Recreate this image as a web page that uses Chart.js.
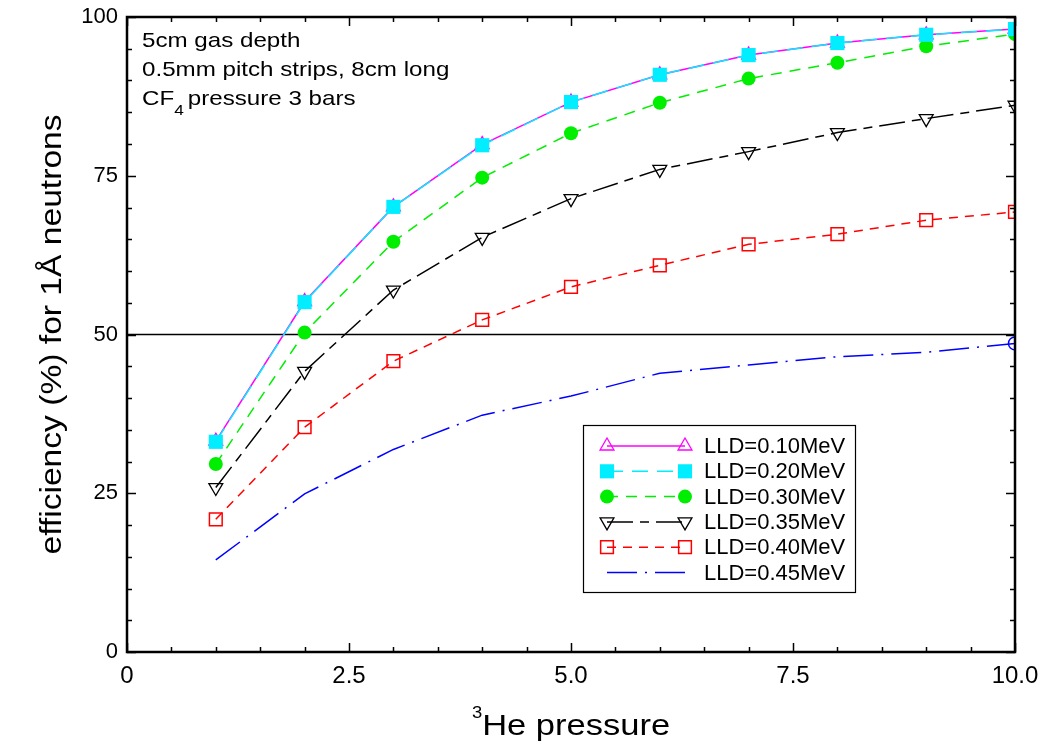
<!DOCTYPE html>
<html><head><meta charset="utf-8">
<script src="https://cdn.jsdelivr.net/npm/chart.js@4.4.1/dist/chart.umd.min.js"></script>
<style>html,body{margin:0;padding:0;background:#fff;}#wrap{width:1041px;height:756px;}</style>
</head><body><div id="wrap"><canvas id="c" width="1041" height="756"></canvas></div>
<script>
// ---- data ----
const pressure = [1, 2, 3, 4, 5, 6, 7, 8, 9, 10];
const lld010 = [33.2, 55.2, 70.1, 79.9, 86.6, 90.9, 94.0, 95.9, 97.2, 98.1];
const lld020 = [33.1, 55.1, 70.1, 79.8, 86.6, 90.9, 94.0, 95.9, 97.2, 98.1];
const lld030 = [29.6, 50.3, 64.6, 74.7, 81.7, 86.5, 90.3, 92.8, 95.4, 97.3];
const lld035 = [25.9, 44.2, 57.0, 65.3, 71.4, 76.0, 78.8, 81.8, 84.0, 86.1];
const lld040 = [20.9, 35.4, 45.8, 52.3, 57.5, 60.9, 64.2, 65.8, 68.0, 69.3];
const lld045 = [14.5, 24.9, 31.9, 37.3, 40.3, 43.9, 45.2, 46.5, 47.2, 48.6];
const seriesNames = ['LLD=0.10MeV', 'LLD=0.20MeV', 'LLD=0.30MeV', 'LLD=0.35MeV', 'LLD=0.40MeV', 'LLD=0.45MeV'];
const xTickValues = [0, 2.5, 5, 7.5, 10];
const xTickLabels = ['0', '2.5', '5.0', '7.5', '10.0'];
const yTickValues = [0, 25, 50, 75, 100];
const yTickLabels = ['0', '25', '50', '75', '100'];
const refLevel = 50;
const notes = ['5cm gas depth', '0.5mm pitch strips, 8cm long'];

const pts = arr => pressure.map((p, i) => ({x: p, y: arr[i]}));
const FONT = '"Liberation Sans", Arial, sans-serif';

const datasets = [
  {label: seriesNames[1], data: pts(lld020), borderColor: '#00eeff', backgroundColor: '#00eeff',
   borderDash: [16, 9], pointStyle: 'rect', pointRadius: 10, pointBorderWidth: 0, order: 0},
  {label: seriesNames[0], data: pts(lld010), borderColor: '#ff00ff', backgroundColor: 'rgba(0,0,0,0)',
   borderDash: [], pointStyle: 'triangle', pointRadius: 8, pointBorderWidth: 1.3, order: 1},
  {label: seriesNames[2], data: pts(lld030), borderColor: '#00ee00', backgroundColor: '#00ee00',
   borderDash: [11, 8], pointStyle: 'circle', pointRadius: 7, pointBorderWidth: 0, order: 2},
  {label: seriesNames[3], data: pts(lld035), borderColor: '#000000', backgroundColor: 'rgba(0,0,0,0)',
   borderDash: [26, 7, 9, 7], pointStyle: 'triangle', pointRotation: 180, pointRadius: 8, pointBorderWidth: 1.3, order: 3},
  {label: seriesNames[4], data: pts(lld040), borderColor: '#ff0000', backgroundColor: 'rgba(0,0,0,0)',
   borderDash: [9, 7], pointStyle: 'rect', pointRadius: 9, pointBorderWidth: 1.5, order: 4},
  {label: seriesNames[5], data: pts(lld045), borderColor: '#0000ff', backgroundColor: 'rgba(0,0,0,0)',
   borderDash: [30, 8, 2, 8], pointStyle: 'circle',
   pointRadius: pressure.map((p, i) => i === pressure.length - 1 ? 6.5 : 0), pointBorderWidth: 1.5, order: 5},
  {label: 'ref', data: [{x: 0, y: refLevel}, {x: 10, y: refLevel}], borderColor: '#000', borderWidth: 1.5,
   pointRadius: 0, order: 6}
];
datasets.forEach(d => { if (d.borderWidth === undefined) d.borderWidth = 1.5; d.fill = false; d.tension = 0; d.pointBorderColor = d.borderColor; d.pointBackgroundColor = d.backgroundColor; });

function stretchText(ctx, txt, x, y, sx) {
  ctx.save();
  ctx.translate(x, y);
  ctx.scale(sx, 1);
  ctx.fillText(txt, 0, 0);
  ctx.restore();
  return ctx.measureText(txt).width * sx;
}

const framePlugin = {
  id: 'frame',
  afterDraw(chart) {
    const {ctx, chartArea: a, scales: {x, y}} = chart;
    ctx.save();
    ctx.strokeStyle = '#000';
    ctx.lineWidth = 1.5;
    for (let v = 0; v <= 10.0001; v += 0.5) {
      const px = Math.round(x.getPixelForValue(v)) + 0.5;
      const major = Math.abs(v / 2.5 - Math.round(v / 2.5)) < 1e-6;
      const len = major ? 9 : 5;
      ctx.beginPath();
      ctx.moveTo(px, a.bottom); ctx.lineTo(px, a.bottom - len);
      ctx.moveTo(px, a.top); ctx.lineTo(px, a.top + len);
      ctx.stroke();
    }
    for (let v = 0; v <= 100.0001; v += 5) {
      const py = Math.round(y.getPixelForValue(v)) + 0.5;
      const major = v % 25 === 0;
      const len = major ? 9 : 5;
      ctx.beginPath();
      ctx.moveTo(a.left, py); ctx.lineTo(a.left + len, py);
      ctx.moveTo(a.right, py); ctx.lineTo(a.right - len, py);
      ctx.stroke();
    }
    ctx.lineWidth = 2.5;
    ctx.strokeRect(a.left, a.top, a.right - a.left, a.bottom - a.top);

    // notes
    ctx.fillStyle = '#000';
    ctx.textBaseline = 'alphabetic';
    ctx.textAlign = 'left';
    const SX = 1.15;
    const nx = a.left + 15;
    ctx.font = '21px ' + FONT;
    stretchText(ctx, notes[0], nx, a.top + 30, SX);
    stretchText(ctx, notes[1], nx, a.top + 59, SX);
    let tx = nx;
    tx += stretchText(ctx, 'CF', tx, a.top + 88, SX);
    ctx.font = '15px ' + FONT;
    tx += stretchText(ctx, '4', tx, a.top + 98, SX) + 4;
    ctx.font = '21px ' + FONT;
    stretchText(ctx, 'pressure 3 bars', tx, a.top + 88, SX);

    // legend
    const lx = 583, ly = 425, lw = 272, lh = 167;
    ctx.lineWidth = 1.2;
    ctx.strokeStyle = '#000';
    ctx.strokeRect(lx + 0.5, ly + 0.5, lw, lh);
    const order = [1, 0, 2, 3, 4, 5];
    order.forEach((di, row) => {
      const d = chart.data.datasets[di];
      const ry = ly + 21 + row * 25.3;
      const x1 = lx + 24, x2 = lx + 102;
      ctx.save();
      ctx.strokeStyle = d.borderColor;
      ctx.lineWidth = d.borderWidth;
      ctx.setLineDash(d.borderDash || []);
      ctx.beginPath(); ctx.moveTo(x1, ry); ctx.lineTo(x2, ry); ctx.stroke();
      ctx.restore();
      const r = Array.isArray(d.pointRadius) ? 0 : d.pointRadius;
      if (r > 0) {
        const opts = {pointStyle: d.pointStyle, rotation: d.pointRotation || 0, radius: r, borderWidth: d.pointBorderWidth};
        ctx.save();
        ctx.strokeStyle = d.borderColor; ctx.fillStyle = d.backgroundColor; ctx.lineWidth = d.pointBorderWidth;
        Chart.helpers.drawPoint(ctx, opts, x1, ry);
        Chart.helpers.drawPoint(ctx, opts, x2, ry);
        ctx.restore();
      }
      ctx.fillStyle = '#000';
      ctx.font = '22px ' + FONT;
      ctx.textBaseline = 'middle';
      ctx.fillText(d.label, lx + 121, ry + 1);
    });

    // axis titles
    ctx.fillStyle = '#000';
    ctx.font = '30px ' + FONT;
    ctx.textBaseline = 'alphabetic';
    ctx.textAlign = 'center';
    ctx.save();
    ctx.translate(61, (a.top + a.bottom) / 2);
    ctx.rotate(-Math.PI / 2);
    ctx.scale(1.12, 1);
    ctx.fillText('efficiency (%) for 1\u00C5 neutrons', 0, 0);
    ctx.restore();

    ctx.textAlign = 'left';
    const main = 'He pressure';
    ctx.font = '30px ' + FONT;
    const mw = ctx.measureText(main).width * 1.15;
    ctx.font = '16px ' + FONT;
    const sw = ctx.measureText('3').width * 1.15;
    const total = mw + sw;
    const cx = (a.left + a.right) / 2;
    stretchText(ctx, '3', cx - total / 2, 718, 1.15);
    ctx.font = '30px ' + FONT;
    stretchText(ctx, main, cx - total / 2 + sw, 735, 1.15);
    ctx.restore();
  }
};

const zeroPad = s => { s.paddingLeft = 0; s.paddingRight = 0; s.paddingTop = 0; s.paddingBottom = 0; };

new Chart(document.getElementById('c'), {
  type: 'line',
  data: {datasets},
  options: {
    responsive: false, animation: false, devicePixelRatio: 1,
    layout: {padding: {left: 0, top: 17, right: 26, bottom: 0}},
    plugins: {legend: {display: false}, tooltip: {enabled: false}},
    scales: {
      x: {
        type: 'linear', min: 0, max: 10,
        afterBuildTicks: s => { s.ticks = xTickValues.map(v => ({value: v})); },
        afterFit: s => { s.height = 104; zeroPad(s); },
        grid: {display: false, drawTicks: false}, border: {display: false},
        ticks: {color: '#000', padding: 10, maxRotation: 0, autoSkip: false,
          font: {family: FONT, size: 24},
          callback: (v) => xTickLabels[xTickValues.indexOf(v)]}
      },
      y: {
        type: 'linear', min: 0, max: 100,
        afterBuildTicks: s => { s.ticks = yTickValues.map(v => ({value: v})); },
        afterFit: s => { s.width = 127; zeroPad(s); },
        grid: {display: false, drawTicks: false}, border: {display: false},
        ticks: {color: '#000', padding: 9, autoSkip: false,
          font: {family: FONT, size: 22},
          callback: (v) => yTickLabels[yTickValues.indexOf(v)]}
      }
    }
  },
  plugins: [framePlugin]
});
</script></body></html>
